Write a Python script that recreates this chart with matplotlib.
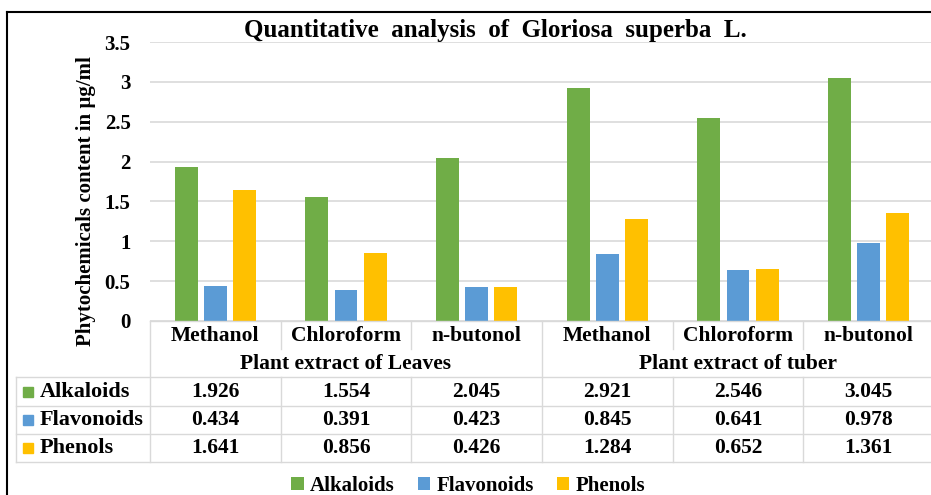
import matplotlib
matplotlib.use("Agg")
import matplotlib.pyplot as plt
from matplotlib.lines import Line2D
from matplotlib.patches import Patch, Rectangle
import numpy as np

# ---------------- data ----------------
solvents = ["Methanol", "Chloroform", "n-butonol", "Methanol", "Chloroform", "n-butonol"]
groups = ["Plant extract of Leaves", "Plant extract of tuber"]
series_names = ["Alkaloids", "Flavonoids", "Phenols"]
alkaloids = [1.926, 1.554, 2.045, 2.921, 2.546, 3.045]
flavonoids = [0.434, 0.391, 0.423, 0.845, 0.641, 0.978]
phenols = [1.641, 0.856, 0.426, 1.284, 0.652, 1.361]
yticks = [0, 0.5, 1, 1.5, 2, 2.5, 3, 3.5]
title = "Quantitative  analysis  of  Gloriosa  superba  L."
ylabel = "Phytochemicals content in \u00b5g/ml"

colors = ["#70ad47", "#5b9bd5", "#ffc000"]
grid_c = "#d9d9d9"
FONT = "Liberation Serif"

W, H = 931, 495
fig = plt.figure(figsize=(W / 100, H / 100), dpi=100)
fig.patch.set_facecolor("white")

def fx(x):
    return x / W

def fy(y):
    return 1 - y / H

# axes: x from 150 to 934 px, y from 42 to 321 px
ax_l, ax_r, ax_t, ax_b = 150, 934, 42, 321
ax = fig.add_axes([fx(ax_l), fy(ax_b), (ax_r - ax_l) / W, (ax_b - ax_t) / H])
ax.set_xlim(0, len(solvents))
ax.set_ylim(0, 3.5)
ax.set_yticks(yticks)
ax.set_yticklabels([f"{t:g}" for t in yticks], fontfamily=FONT, fontweight="bold", fontsize=15)
ax.tick_params(axis="y", length=0, pad=14)
ax.set_xticks([])
for s in ax.spines.values():
    s.set_visible(False)
ax.yaxis.grid(True, color=grid_c, linewidth=1.2)
ax.set_axisbelow(True)

x = np.arange(len(solvents)) + 0.5
bw = 0.176
off = 0.222
all_series = [alkaloids, flavonoids, phenols]
for i, (vals, c) in enumerate(zip(all_series, colors)):
    ax.bar(x + (i - 1) * off, vals, width=bw, color=c, zorder=3)

# title & ylabel
fig.text(fx(495), fy(30), title, ha="center", va="center", fontfamily=FONT,
         fontweight="bold", fontsize=18)
fig.text(fx(86), fy(201), ylabel, ha="center", va="center", rotation=90,
         fontfamily=FONT, fontweight="bold", fontsize=15)

# ---------------- table ----------------
tr = ax.get_xaxis_transform()  # x data, y axes
def ay(ypx):
    return (ax_b - ypx) / (ax_b - ax_t)

lc = grid_c
lw = 1.0
def hline(y, x0px, x1px=W):
    fig.add_artist(Line2D([fx(x0px), fx(x1px)], [fy(y), fy(y)], color=lc, lw=lw))
def vline(xpx, y0, y1):
    fig.add_artist(Line2D([fx(xpx), fx(xpx)], [fy(y0), fy(y1)], color=lc, lw=lw))

hline(321, 150)
for yy in [377, 406, 434, 462]:
    hline(yy, 16)
vline(16, 377, 462)
vline(150, 321, 462)
cat_w = (ax_r - ax_l) / len(solvents)
for k in range(1, len(solvents)):
    xp = ax_l + k * cat_w
    if k == 3:
        vline(xp, 321, 462)
    else:
        vline(xp, 321, 349)
        vline(xp, 377, 462)

tkw = dict(fontfamily=FONT, fontweight="bold", fontsize=15.5, ha="center", va="center")
for xi, name in zip(x, solvents):
    ax.text(xi, ay(336), name, transform=tr, clip_on=False, **tkw)
for gi, g in enumerate(groups):
    ax.text(1.5 + 3 * gi, ay(364), g, transform=tr, clip_on=False, **tkw)

row_y = [392, 420, 448]
for ri, (name, vals, c) in enumerate(zip(series_names, all_series, colors)):
    yc = row_y[ri]
    fig.add_artist(Rectangle((fx(23), fy(yc + 5)), 10 / W, 10 / H, color=c,
                             transform=fig.transFigure))
    fig.text(fx(40), fy(yc), name, ha="left", va="center", fontfamily=FONT,
             fontweight="bold", fontsize=16)
    for xi, v in zip(x, vals):
        ax.text(xi, ay(yc), f"{v:.3f}", transform=tr, clip_on=False, **tkw)

# legend
handles = [Patch(facecolor=c, edgecolor="none") for c in colors]
fig.legend(handles, series_names, loc="center", bbox_to_anchor=(fx(468), fy(486)),
           ncol=3, frameon=False, handlelength=0.6, handleheight=0.6,
           handletextpad=0.3, columnspacing=1.1,
           prop=dict(family=FONT, weight="bold", size=15))

# outer border (top & left)
fig.add_artist(Line2D([fx(7), fx(W)], [fy(12), fy(12)], color="black", lw=1.5))
fig.add_artist(Line2D([fx(7), fx(7)], [fy(12), fy(H)], color="black", lw=1.5))

fig.savefig("out.png", dpi=100)
